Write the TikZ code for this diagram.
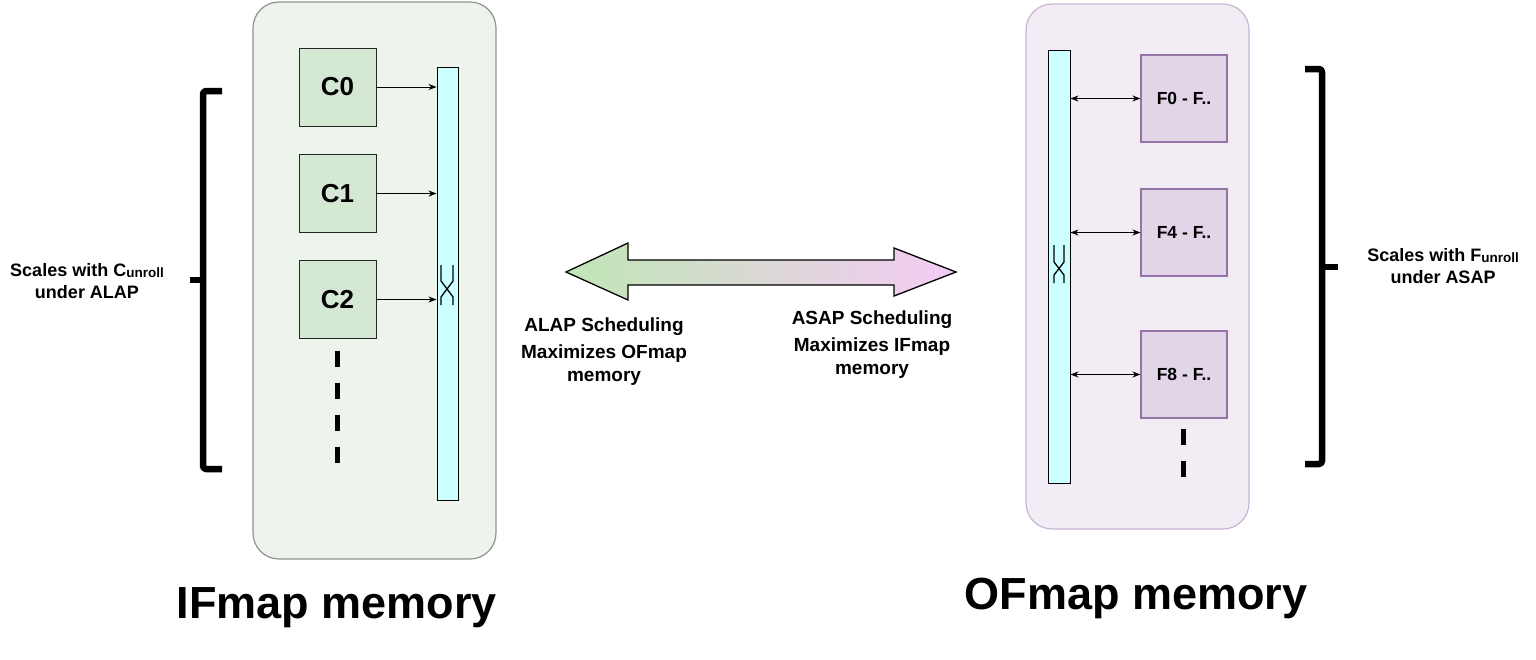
\documentclass[tikz,border=0pt]{standalone}
\usepackage{fontspec}
\setmainfont{Liberation Sans}
\usetikzlibrary{arrows.meta,shadings}
\definecolor{lgfill}{HTML}{EDF4EB}
\definecolor{lgdraw}{HTML}{8C968C}
\definecolor{cfill}{HTML}{D5E8D4}
\definecolor{cyanf}{HTML}{CCFFFF}
\definecolor{lpfill}{HTML}{F2ECF5}
\definecolor{lpdraw}{HTML}{C9B5D6}
\definecolor{ffill}{HTML}{E1D5E7}
\definecolor{fdraw}{HTML}{9673A6}
\definecolor{agreen}{HTML}{C0E6B6}
\definecolor{apink}{HTML}{F5CBF5}
\tikzset{
  cbox/.style={draw=black!85, fill=cfill, line width=0.9pt, minimum width=77pt, minimum height=78pt, inner sep=0pt, font=\bfseries\fontsize{26}{26}\selectfont},
  fbox/.style={draw=fdraw, fill=ffill, line width=1.1pt, minimum width=86pt, minimum height=87pt, inner sep=0pt, font=\bfseries\fontsize{17.5}{17.5}\selectfont},
  xbar/.style={draw=black, fill=cyanf, line width=0.9pt, inner sep=0pt},
  conn/.style={line width=0.8pt, -{Stealth[length=8pt,width=6pt]}},
  dconn/.style={line width=0.8pt, {Stealth[length=8pt,width=6pt]}-{Stealth[length=8pt,width=6pt]}},
  brace/.style={line width=6.5pt, line join=round},
  lbl/.style={font=\bfseries\fontsize{19}{23}\selectfont, align=center, inner sep=0pt},
  slbl/.style={font=\bfseries\fontsize{18}{21.5}\selectfont, align=center, inner sep=0pt},
  title/.style={font=\bfseries\fontsize{45}{45}\selectfont, inner sep=0pt},
  xsym/.style={line width=1.3pt},
  dsh/.style={line width=5pt, dash pattern=on 16pt off 16pt},
}
\newcommand{\unr}{\raisebox{-1pt}{\fontsize{13.5}{13.5}\selectfont unroll}}
\begin{document}
\begin{tikzpicture}[x=1pt,y=-1pt]
\useasboundingbox (0,0) rectangle (1536,659);
% left container
\node[draw=lgdraw, fill=lgfill, line width=1.2pt, rounded corners=26pt, minimum width=243pt, minimum height=557pt, inner sep=0pt] (lmem) at (374.5,280.5) {};
\node[cbox] (c0) at (337.5,87) {C0};
\node[cbox] (c1) at (337.5,193.5) {C1};
\node[cbox] (c2) at (337.5,299.5) {C2};
\node[xbar, minimum width=21pt, minimum height=433pt] (lbar) at (447.5,283.5) {};
\draw[conn] (c0.east) -- (c0.east -| lbar.west);
\draw[conn] (c1.east) -- (c1.east -| lbar.west);
\draw[conn] (c2.east) -- (c2.east -| lbar.west);
\draw[xsym] (441,265) -- (441,281) -- (453,297) -- (453,305);
\draw[xsym] (453,265) -- (453,281) -- (441,297) -- (441,305);
\coordinate (ld1) at (337,351);
\coordinate (ld2) at (337,466);
\draw[dsh] (ld1) -- (ld2);
% left brace
\coordinate (lb1) at (222,91);
\coordinate (lb2) at (222,469);
\coordinate (lbm) at (203,280);
\coordinate (lbt) at (190,280);
\draw[brace] (lb1) -- (206,91) arc[start angle=90,end angle=180,radius=3pt] -- (203,466) arc[start angle=180,end angle=270,radius=3pt] -- (lb2);
\draw[brace] (lbm) -- (lbt);
\node[slbl] (lscale) at (87,281) {Scales with C\unr\\under ALAP};
% right container
\node[draw=lpdraw, fill=lpfill, line width=1.2pt, rounded corners=26pt, minimum width=223pt, minimum height=525pt, inner sep=0pt] (rmem) at (1137.5,266.5) {};
\node[xbar, minimum width=22pt, minimum height=433pt] (rbar) at (1059,266.5) {};
\node[fbox] (f0) at (1184,98.5) {F0 - F..};
\node[fbox] (f4) at (1184,232.5) {F4 - F..};
\node[fbox] (f8) at (1184,374.5) {F8 - F..};
\draw[dconn] (f0.west -| rbar.east) -- (f0.west);
\draw[dconn] (f4.west -| rbar.east) -- (f4.west);
\draw[dconn] (f8.west -| rbar.east) -- (f8.west);
\draw[xsym] (1054,245) -- (1054,262) -- (1064,275) -- (1064,283);
\draw[xsym] (1064,245) -- (1064,262) -- (1054,275) -- (1054,283);
\coordinate (rd1) at (1183,429);
\coordinate (rd2) at (1183,478);
\draw[dsh] (rd1) -- (rd2);
% right brace
\coordinate (rb1) at (1305,69);
\coordinate (rb2) at (1305,464);
\coordinate (rbm) at (1322,267);
\coordinate (rbt) at (1338,267);
\draw[brace] (rb1) -- (1319,69) arc[start angle=90,end angle=0,radius=3pt] -- (1322,461) arc[start angle=0,end angle=-90,radius=3pt] -- (rb2);
\draw[brace] (rbm) -- (rbt);
\node[slbl] (rscale) at (1443,266) {Scales with F\unr\\under ASAP};
% big double arrow
\shade[left color=agreen, right color=apink, draw=black, line width=1.3pt, line join=miter]
  (566,272) -- (628,243) -- (628,260) -- (894,260) -- (894,248) -- (956,272) -- (894,296) -- (894,285) -- (628,285) -- (628,300) -- cycle;
\node[lbl] (alap) at (604,352) {ALAP Scheduling\\[4pt]Maximizes OFmap\\memory};
\node[lbl] (asap) at (872,345) {ASAP Scheduling\\[4pt]Maximizes IFmap\\memory};
\node[title] (ltitle) at (337,608) {IFmap memory};
\node[title] (rtitle) at (1136,598) {OFmap memory};
\end{tikzpicture}
\end{document}
